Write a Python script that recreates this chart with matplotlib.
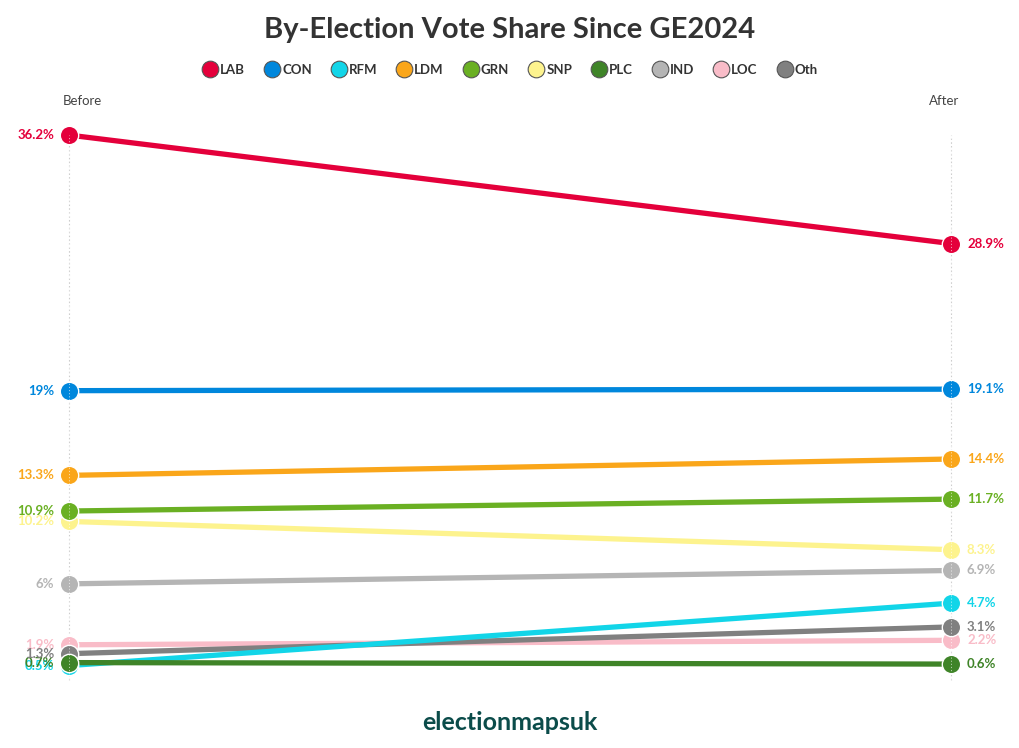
import matplotlib
matplotlib.use("Agg")
import matplotlib.pyplot as plt
from matplotlib.lines import Line2D

parties = ["LAB", "CON", "RFM", "LDM", "GRN", "SNP", "PLC", "IND", "LOC", "Oth"]
before = [36.2, 19, 0.5, 13.3, 10.9, 10.2, 0.7, 6, 1.9, 1.3]
after = [28.9, 19.1, 4.7, 14.4, 11.7, 8.3, 0.6, 6.9, 2.2, 3.1]
before_labels = ["36.2%", "19%", "0.5%", "13.3%", "10.9%", "10.2%", "0.7%", "6%", "1.9%", "1.3%"]
after_labels = ["28.9%", "19.1%", "4.7%", "14.4%", "11.7%", "8.3%", "0.6%", "6.9%", "2.2%", "3.1%"]
colors = ["#E4003B", "#0087DC", "#12D5E8", "#FAA61A", "#6AB023", "#FDF38E",
          "#3F8428", "#B5B5B5", "#F9BCC8", "#808080"]
stages = ["Before", "After"]

plt.rcParams['font.family'] = ['Lato', 'DejaVu Sans']

W, H = 1020, 748
fig = plt.figure(figsize=(W / 100, H / 100), dpi=100)
ax = fig.add_axes([0, 0, 1, 1])
ax.set_axis_off()

# pixel mapping: x=0 -> 69px, x=1 -> 951px ; y=0 -> 673px from top, 14.86 px/unit
pxu_x = 882.0
ax.set_xlim(-69 / pxu_x, (W - 69) / pxu_x)
pxu_y = 14.86
y0 = H - 673
ax.set_ylim(-y0 / pxu_y, (H - y0) / pxu_y)

xs = [0, 1]
ymax = max(max(before), max(after))
for x in xs:
    ax.plot([x, x], [-0.5, ymax], color="#cccccc", lw=0.8, ls=(0, (1.5, 2)), zorder=1)

order = [5, 7, 4, 3, 1, 8, 9, 2, 6, 0]
for i in order:
    ax.plot(xs, [before[i], after[i]], color=colors[i], lw=3.8, zorder=3,
            solid_capstyle="butt")
    ax.scatter(xs, [before[i], after[i]], s=175, color=colors[i], edgecolors="white",
               linewidths=1.0, zorder=4)
for x in xs:
    ax.plot([x, x], [-0.5, ymax], color="white", lw=0.7, ls=(0, (1.2, 2)), zorder=5, alpha=0.6)

for i in range(len(parties)):
    ax.annotate(before_labels[i], (0, before[i]), xytext=(-15, 0), textcoords="offset pixels",
                ha="right", va="center", fontsize=9.5, fontweight="bold", color=colors[i], zorder=6)
    ax.annotate(after_labels[i], (1, after[i]), xytext=(16, 0), textcoords="offset pixels",
                ha="left", va="center", fontsize=9.5, fontweight="bold", color=colors[i], zorder=6)

fig.text(82 / W, 1 - 101 / H, stages[0], ha="center", va="center", fontsize=9.5, color="#444444")
fig.text(944 / W, 1 - 101 / H, stages[1], ha="center", va="center", fontsize=9.5, color="#444444")

fig.text(0.5, 1 - 30 / H, "By-Election Vote Share Since GE2024", ha="center", va="center",
         fontsize=21, fontweight="bold", color="#333333")
fig.text(0.5, 1 - 722 / H, "electionmapsuk", ha="center", va="center",
         fontsize=18, fontweight="bold", color="#0B4C4A")

handles = [Line2D([0], [0], marker="o", ls="none", markersize=12, markerfacecolor=c,
                  markeredgecolor="#555555", markeredgewidth=0.8) for c in colors]
leg = fig.legend(handles, parties, loc="center", bbox_to_anchor=(0.5, 1 - 70 / H), ncol=10,
                 frameon=False, handletextpad=0.15, columnspacing=1.45, handlelength=1.2,
                 prop={"weight": "bold", "size": 9.5})
for t in leg.get_texts():
    t.set_color("#333333")

fig.savefig("out.png", dpi=100, facecolor="white")
